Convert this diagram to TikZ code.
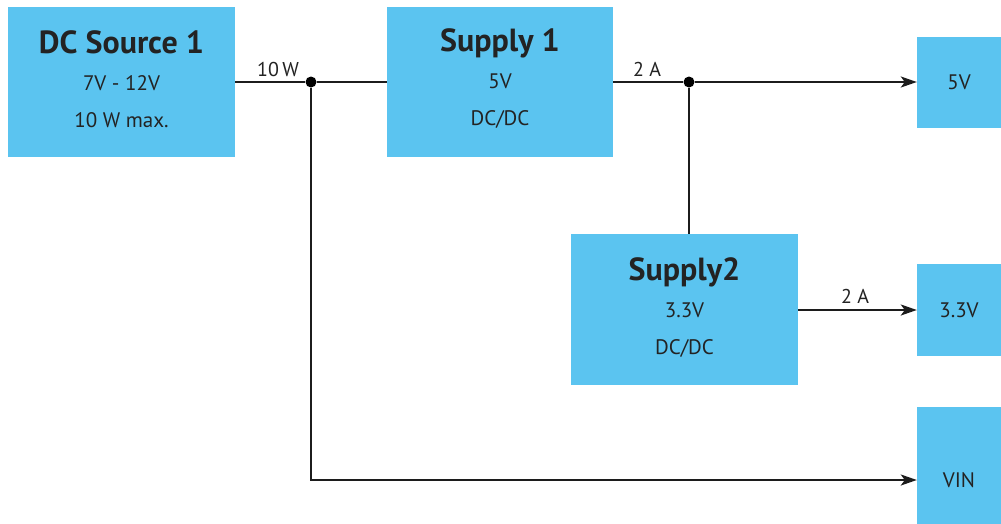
\documentclass[tikz,border=0pt]{standalone}
\usepackage{fontspec}
\setmainfont{PT Sans}
\usetikzlibrary{arrows.meta}
\definecolor{boxblue}{RGB}{91,196,240}
\definecolor{ink}{RGB}{35,35,35}
\tikzset{
  block/.style={fill=boxblue, draw=none, inner sep=0pt},
  blocktext/.style={inner sep=0pt, align=center, text=ink,
    font=\fontsize{21}{37}\selectfont},
  outbox/.style={fill=boxblue, draw=none, inner sep=0pt, text=ink,
    font=\fontsize{21}{24}\selectfont},
  wire/.style={line width=2.2pt, draw=ink!80!black},
  feed/.style={wire, -{Stealth[length=16pt,width=11pt,inset=4pt]}},
  junction/.style={circle, fill=black, inner sep=0pt, minimum size=11pt},
  tag/.style={font=\fontsize{20}{22}\selectfont, text=ink, inner sep=2pt},
}
\newcommand{\blocktitle}[1]{{\fontsize{32}{34}\selectfont\bfseries #1}\\[0pt]}
\begin{document}
\begin{tikzpicture}[x=1pt,y=-1pt]
\useasboundingbox (0,0) rectangle (1001,523);
\fill[white] (0,0) rectangle (1001,523);

% converter blocks
\node[block, minimum width=227pt, minimum height=150pt] (src) at (121.5,82) {};
\node[blocktext] (srctext) at (121.5,79)
  {\blocktitle{DC Source 1}7V - 12V\\10 W max.};
\node[block, minimum width=226pt, minimum height=150pt] (sup1) at (500,82) {};
\node[blocktext] (sup1text) at (500,79)
  {\blocktitle{Supply 1}5V\\DC/DC};
\node[block, minimum width=227pt, minimum height=151pt] (sup2) at (684.5,309.5) {};
\node[blocktext] (sup2text) at (684.5,307.5)
  {\blocktitle{Supply2}3.3V\\DC/DC};

% output rails
\node[outbox, minimum width=84pt, minimum height=91pt] (o5) at (959,82.5) {5V};
\node[outbox, minimum width=84pt, minimum height=92pt] (o33) at (959,310) {3.3V};
\node[outbox, minimum width=84pt, minimum height=130pt] (ovin) at (959,472) {};
\node[outbox] (ovinlbl) at (959,480) {VIN};

% junctions
\node[junction] (j1) at (311,82) {};
\node[junction] (j2) at (689,82) {};
\coordinate (vinbend) at (311,480);

% wiring
\draw[wire] (src.east |- j1) -- (j1) -- (sup1.west |- j1);
\draw[wire] (sup1.east |- j2) -- (j2);
\draw[feed] (j2) -- (o5.west |- j2);
\draw[wire] (j2) -- (sup2.north -| j2);
\draw[feed] (sup2.east |- o33) -- (o33.west);
\draw[feed] (j1) -- (vinbend) -- (ovin.west |- vinbend);

% currents and power
\node[tag, anchor=base] (t10w) at (278,76) {10\,W};
\node[tag, anchor=base] (t2a1) at (647,76) {2 A};
\node[tag, anchor=base] (t2a2) at (855,303) {2 A};
\end{tikzpicture}
\end{document}
